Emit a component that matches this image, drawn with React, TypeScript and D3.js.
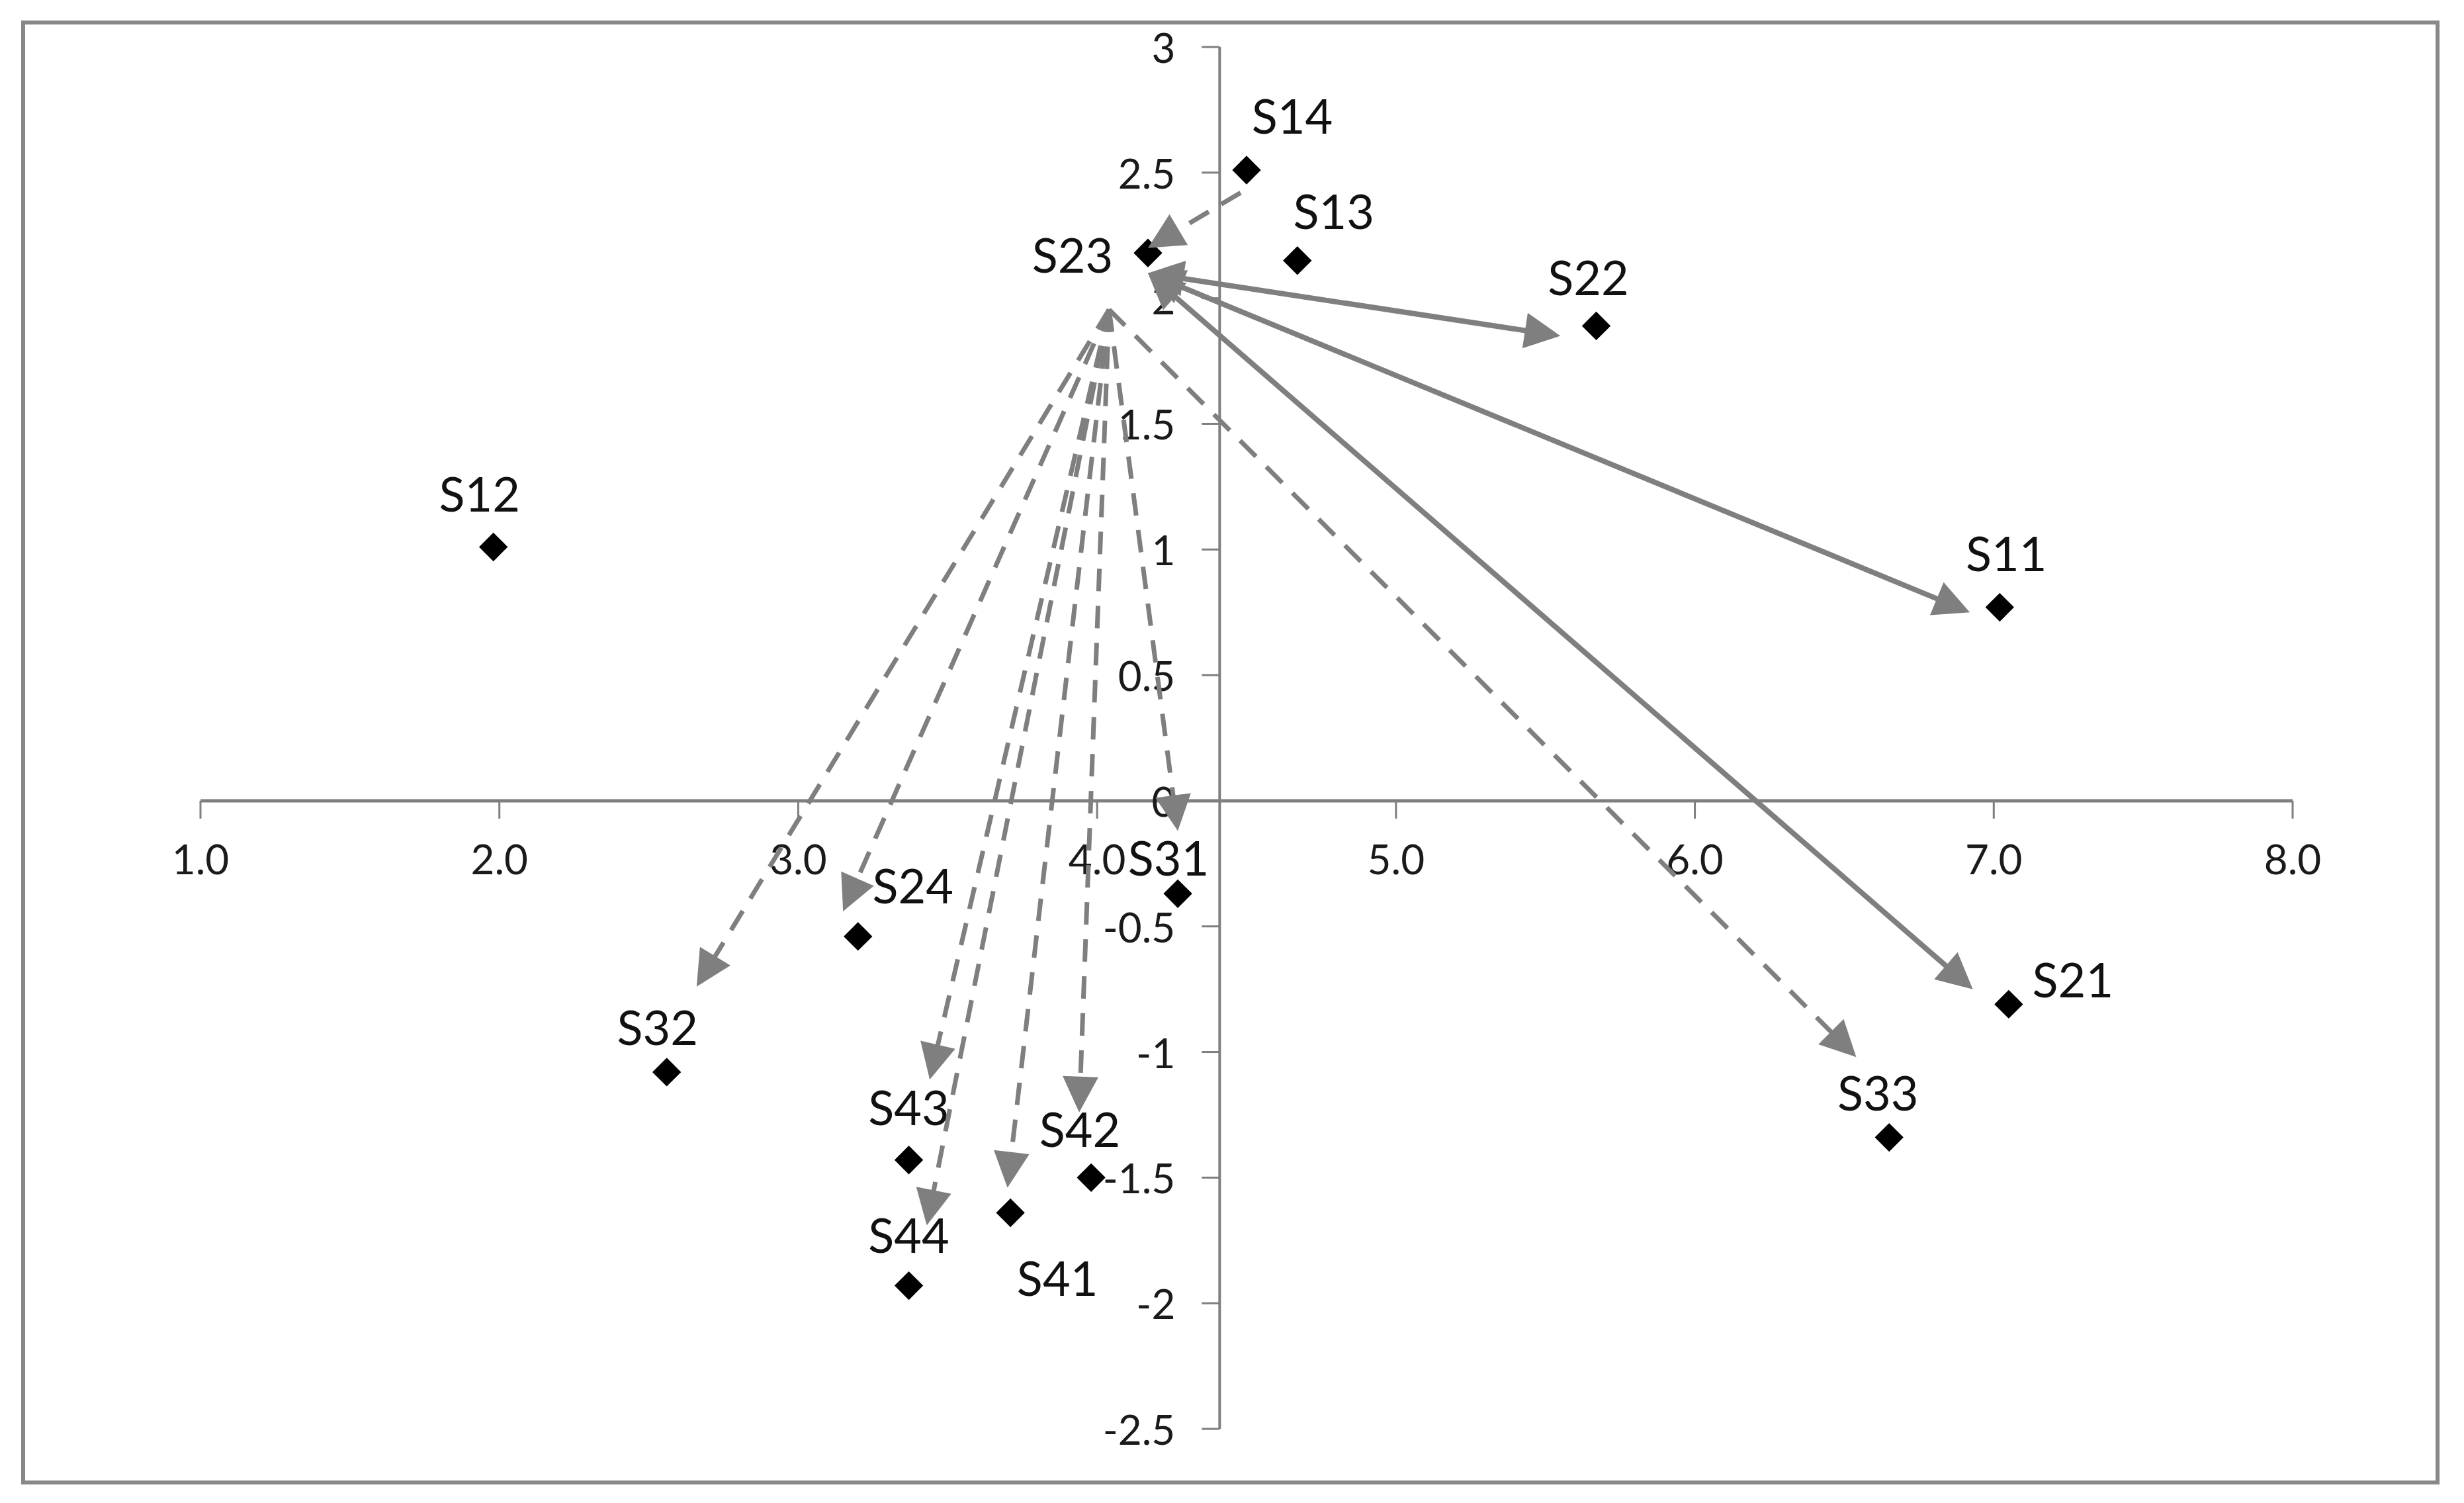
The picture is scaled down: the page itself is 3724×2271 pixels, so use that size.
import React from "react";
import * as d3 from "d3";

// ---------- data ----------
const pointNames = ["S11","S12","S13","S14","S21","S22","S23","S24","S31","S32","S33","S41","S42","S43","S44"];
const pointX = [7.02, 1.98, 4.67, 4.50, 7.05, 5.67, 4.17, 3.20, 4.27, 2.56, 6.65, 3.71, 3.98, 3.37, 3.37];
const pointY = [0.77, 1.01, 2.15, 2.51, -0.81, 1.89, 2.18, -0.54, -0.37, -1.08, -1.34, -1.64, -1.50, -1.43, -1.93];

// label offsets (px) from each point
const labelDX = [10, -21, 55, 69, 97, -12, -114, 83, -14, -14, -17, 71, -17, 0, 0];
const labelDY = [-83, -81, -76, -83, -38, -74, 2, -78, -55, -69, -69, 97, -74, -81, -78];

const xTicks = [1, 2, 3, 4, 5, 6, 7, 8];
const xTickLabels = ["1.0","2.0","3.0","4.0","5.0","6.0","7.0","8.0"];
const yTicks = [3, 2.5, 2, 1.5, 1, 0.5, 0, -0.5, -1, -1.5, -2, -2.5];
const yTickLabels = ["3","2.5","2","1.5","1","0.5","0","-0.5","-1","-1.5","-2","-2.5"];
const yAxisCrossX = 4.41;

// arrows (data units)
const arrowFromX = [4.17, 4.17, 4.17, 4.48, 4.04, 4.04, 4.04, 4.04, 4.04, 4.04, 4.04, 4.04];
const arrowFromY = [2.10, 2.10, 2.10, 2.42, 1.955, 1.955, 1.955, 1.955, 1.955, 1.955, 1.955, 1.955];
const arrowToX = [5.55, 6.92, 6.93, 4.17, 2.66, 3.15, 3.44, 3.43, 3.70, 3.94, 4.27, 6.54];
const arrowToY = [1.85, 0.75, -0.75, 2.20, -0.74, -0.44, -1.11, -1.69, -1.54, -1.24, -0.12, -1.02];
const arrowDashed = [false, false, false, true, true, true, true, true, true, true, true, true];
const arrowBothEnds = [true, true, true, false, false, false, false, false, false, false, false, false];

// ---------- layout ----------
const W = 3724, H = 2271;
const xScale = d3.scaleLinear().domain([1, 8]).range([303, 3465]);
const yScale = d3.scaleLinear().domain([-2.5, 3]).range([2159, 71]);
const GRAY = "#7f7f7f";
const FONT = "Lato, 'Open Sans', sans-serif";
const HEAD_LEN = 54, HEAD_HALF = 27;

function head(tx: number, ty: number, ux: number, uy: number) {
  const bx = tx - ux * HEAD_LEN, by = ty - uy * HEAD_LEN;
  const px = -uy, py = ux;
  const path = d3.path();
  path.moveTo(tx, ty);
  path.lineTo(bx + px * HEAD_HALF, by + py * HEAD_HALF);
  path.lineTo(bx - px * HEAD_HALF, by - py * HEAD_HALF);
  path.closePath();
  return path.toString();
}

export default function App() {
  React.useEffect(() => {
    document.body.style.margin = "0";
  }, []);

  const x0 = xScale(yAxisCrossX);
  const y0 = yScale(0);
  const diamond = d3.symbol().type(d3.symbolDiamond2).size(1200)();

  const arrows = arrowFromX.map((fx, i) => {
    const x1 = xScale(fx), y1 = yScale(arrowFromY[i]);
    const x2 = xScale(arrowToX[i]), y2 = yScale(arrowToY[i]);
    const len = Math.hypot(x2 - x1, y2 - y1);
    const ux = (x2 - x1) / len, uy = (y2 - y1) / len;
    const sx = arrowBothEnds[i] ? x1 + ux * (HEAD_LEN - 4) : x1;
    const sy = arrowBothEnds[i] ? y1 + uy * (HEAD_LEN - 4) : y1;
    const ex = x2 - ux * (HEAD_LEN - 4), ey = y2 - uy * (HEAD_LEN - 4);
    return (
      <g key={"a" + i}>
        <line x1={sx} y1={sy} x2={ex} y2={ey} stroke={GRAY}
          strokeWidth={arrowDashed[i] ? 7 : 8}
          strokeDasharray={arrowDashed[i] ? "34,22" : undefined} />
        <path d={head(x2, y2, ux, uy)} fill={GRAY} />
        {arrowBothEnds[i] && <path d={head(x1, y1, -ux, -uy)} fill={GRAY} />}
      </g>
    );
  });

  return (
    <svg width={W} height={H} style={{ display: "block", position: "absolute", left: 0, top: 0, background: "#fff" }}
      fontFamily={FONT}>
      <rect x={0} y={0} width={W} height={H} fill="#fff" />
      <rect x={35} y={34} width={3649} height={2206} fill="#fff" stroke="#888" strokeWidth={6} />

      {/* x axis */}
      <line x1={xScale(1)} x2={xScale(8)} y1={y0} y2={y0} stroke={GRAY} strokeWidth={5} />
      {xTicks.map((t, i) => (
        <g key={"xt" + i}>
          <line x1={xScale(t)} x2={xScale(t)} y1={y0} y2={y0 + 27} stroke={GRAY} strokeWidth={3} />
          <text x={xScale(t)} y={y0 + 87} textAnchor="middle" dominantBaseline="central"
            fontSize={62} fill="#1a1a1a">{xTickLabels[i]}</text>
        </g>
      ))}

      {/* y axis */}
      <line x1={x0} x2={x0} y1={yScale(3)} y2={yScale(-2.5)} stroke={GRAY} strokeWidth={4} />
      {yTicks.map((t, i) => (
        <g key={"yt" + i}>
          <line x1={x0 - 27} x2={x0} y1={yScale(t)} y2={yScale(t)} stroke={GRAY} strokeWidth={3} />
          <text x={x0 - 67} y={yScale(t)} textAnchor="end" dominantBaseline="central"
            fontSize={62} fill="#1a1a1a">{yTickLabels[i]}</text>
        </g>
      ))}

      {/* points */}
      {pointNames.map((n, i) => (
        <path key={"p" + i} d={diamond as string}
          transform={`translate(${xScale(pointX[i])},${yScale(pointY[i])})`} fill="#000" />
      ))}
      {pointNames.map((n, i) => (
        <text key={"l" + i} x={xScale(pointX[i]) + labelDX[i]} y={yScale(pointY[i]) + labelDY[i]}
          textAnchor="middle" dominantBaseline="central" fontSize={72} fill="#111">{n}</text>
      ))}

      {arrows}
    </svg>
  );
}
